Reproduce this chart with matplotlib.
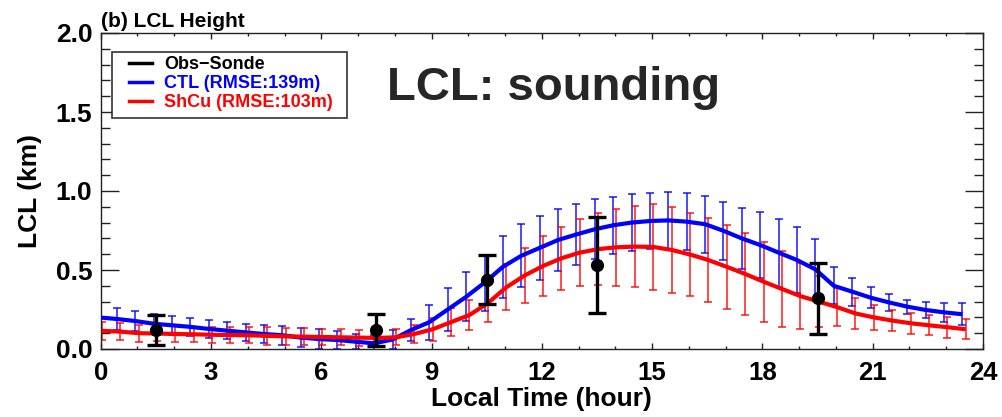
import numpy as np
import matplotlib
matplotlib.use("Agg")
import matplotlib.pyplot as plt
from matplotlib.lines import Line2D
from matplotlib.patches import Rectangle
from matplotlib.ticker import MultipleLocator, FormatStrFormatter

plt.rcParams['font.family'] = ['Liberation Sans', 'DejaVu Sans']
plt.rcParams['font.weight'] = 'bold'

# ---- data ----
hours = np.arange(0, 24, 0.5)

ctl = [0.20, 0.19, 0.177, 0.16, 0.15, 0.14, 0.127, 0.116, 0.105, 0.095,
       0.087, 0.072, 0.063, 0.057, 0.046, 0.036, 0.06, 0.12, 0.17, 0.25,
       0.33, 0.42, 0.52, 0.59, 0.64, 0.69, 0.725, 0.758, 0.783, 0.80,
       0.81, 0.814, 0.806, 0.79, 0.748, 0.70, 0.658, 0.61, 0.563, 0.504,
       0.40, 0.363, 0.325, 0.295, 0.268, 0.247, 0.232, 0.22]
ctl_err = [0.07, 0.067, 0.066, 0.063, 0.06, 0.056, 0.055, 0.053, 0.055, 0.06,
           0.06, 0.06, 0.062, 0.059, 0.047, 0.05, 0.058, 0.07, 0.11, 0.133,
           0.155, 0.177, 0.195, 0.20, 0.204, 0.197, 0.193, 0.19, 0.18, 0.18,
           0.18, 0.18, 0.18, 0.18, 0.183, 0.195, 0.21, 0.215, 0.21, 0.19,
           0.116, 0.089, 0.066, 0.052, 0.045, 0.048, 0.06, 0.068]

shcu = [0.115, 0.11, 0.10, 0.098, 0.095, 0.093, 0.09, 0.088, 0.087, 0.083,
        0.08, 0.078, 0.076, 0.074, 0.072, 0.07, 0.074, 0.095, 0.125, 0.17,
        0.215, 0.29, 0.39, 0.465, 0.525, 0.574, 0.61, 0.632, 0.644, 0.648,
        0.646, 0.627, 0.598, 0.563, 0.52, 0.475, 0.426, 0.38, 0.335, 0.30,
        0.265, 0.225, 0.20, 0.18, 0.163, 0.15, 0.138, 0.125]
shcu_err = [0.058, 0.053, 0.054, 0.05, 0.048, 0.048, 0.05, 0.052, 0.052, 0.055,
            0.053, 0.052, 0.05, 0.05, 0.05, 0.05, 0.05, 0.055, 0.074, 0.088,
            0.094, 0.12, 0.146, 0.172, 0.19, 0.20, 0.21, 0.229, 0.243, 0.255,
            0.27, 0.27, 0.264, 0.267, 0.267, 0.26, 0.253, 0.24, 0.21, 0.16,
            0.122, 0.10, 0.08, 0.069, 0.066, 0.063, 0.066, 0.063]

obs_t = [1.5, 7.5, 10.5, 13.5, 19.5]
obs = [0.12, 0.12, 0.437, 0.53, 0.32]
obs_err = [0.095, 0.10, 0.155, 0.305, 0.225]

labels = ['Obs\u2212Sonde', 'CTL (RMSE:139m)', 'ShCu (RMSE:103m)']
xticks = [0, 3, 6, 9, 12, 15, 18, 21, 24]
yticks = [0.0, 0.5, 1.0, 1.5, 2.0]

# ---- figure ----
W, H = 1002, 417
fig = plt.figure(figsize=(W / 100, H / 100), dpi=100)
ax = fig.add_axes([100.7 / W, 1 - 349 / H, (983 - 100.7) / W, (349 - 33) / H])

h = np.asarray(hours)
ax.errorbar(h - 0.06, ctl, yerr=ctl_err, fmt='none', ecolor='blue',
            elinewidth=1.1, capsize=3, capthick=1.1, alpha=0.9, zorder=2)
ax.errorbar(h + 0.03, shcu, yerr=shcu_err, fmt='none', ecolor='red',
            elinewidth=1.1, capsize=3, capthick=1.1, alpha=0.9, zorder=2)
ax.plot(h - 0.06, ctl, color='blue', lw=3.0, zorder=3, solid_capstyle='butt')
ax.plot(h + 0.03, shcu, color='red', lw=3.0, zorder=4, solid_capstyle='butt')
ax.errorbar(obs_t, obs, yerr=obs_err, fmt='o', color='black', ms=8.5,
            elinewidth=2.4, capsize=6.5, capthick=2.4, zorder=5)

ax.set_xlim(0, 24)
ax.set_ylim(0, 2.0)
ax.set_xticks(xticks)
ax.set_yticks(yticks)
ax.xaxis.set_minor_locator(MultipleLocator(1))
ax.yaxis.set_minor_locator(MultipleLocator(0.1))
ax.yaxis.set_major_formatter(FormatStrFormatter('%.1f'))

edge = '#222222'
for s in ax.spines.values():
    s.set_color(edge)
    s.set_linewidth(1.0)
ax.tick_params(axis='both', which='both', direction='in', top=True, right=True,
               color=edge, width=1.0)
ax.tick_params(axis='x', which='major', length=4.0, pad=9.0, labelsize=18.5)
ax.tick_params(axis='x', which='minor', length=2.0)
ax.tick_params(axis='y', which='major', length=13, pad=6.0, labelsize=19)
ax.tick_params(axis='y', which='minor', length=6.5)
for lab in ax.get_xticklabels() + ax.get_yticklabels():
    lab.set_fontweight('bold')

ax.set_xlabel('Local Time (hour)', fontsize=19, fontweight='bold')
ax.set_ylabel('LCL (km)', fontsize=19, fontweight='bold')
ax.xaxis.set_label_coords(0.5, -0.12)
ax.yaxis.set_label_coords(-0.066, 0.5)

fig.text(100.7 / W, 1 - 27 / H, '(b) LCL Height', fontsize=15,
         fontweight='bold', ha='left', va='baseline')

ax.text(7.78, 1.576, 'LCL: sounding', fontsize=34, fontweight='bold',
        color='#262626', ha='left', va='baseline')

# legend
rect = Rectangle((112 / W, 1 - 118 / H), (347 - 112) / W, (118 - 52) / H,
                 transform=fig.transFigure, fill=True, facecolor='white',
                 edgecolor='#333333', linewidth=1.2, zorder=9, clip_on=False)
ax.add_patch(rect)
handles = [Line2D([], [], color='black', lw=2.5),
           Line2D([], [], color='blue', lw=2.5),
           Line2D([], [], color='red', lw=2.5)]
leg = ax.legend(handles, labels, loc='upper left',
                bbox_to_anchor=(129 / W, 1 - 56 / H),
                bbox_transform=fig.transFigure, frameon=False,
                prop=dict(family='Liberation Sans', weight='bold', size=13),
                borderpad=0, borderaxespad=0, handlelength=1.3,
                handletextpad=0.65, labelspacing=0.11,
                labelcolor=['black', 'blue', 'red'])
leg.set_zorder(10)

fig.savefig('out.png', dpi=100)
